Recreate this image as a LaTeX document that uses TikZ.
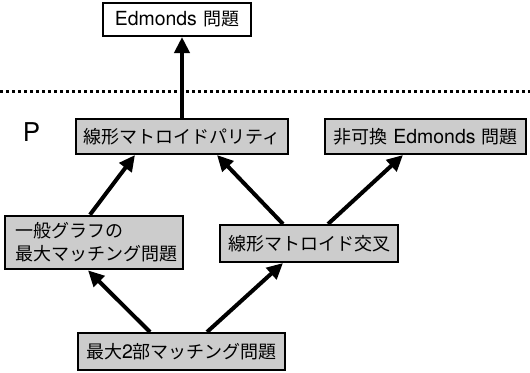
\documentclass[tikz,border=0pt]{standalone}
\usepackage{fontspec}
\setmainfont{Noto Sans CJK JP}
\newfontfamily\latinfont[Scale=1.08]{TeX Gyre Heros}
\newcommand{\lat}[1]{{\latinfont #1}}
\usetikzlibrary{arrows.meta, positioning}

\begin{document}
\begin{tikzpicture}[x=0.5pt, y=-0.5pt,
    prob/.style={rectangle, draw=black, fill=gray!40, line width=1pt, minimum height=17.5pt, inner xsep=4pt, inner ysep=2pt, font=\fontsize{9}{11.5}\selectfont},
    goal/.style={prob, fill=white},
    line/.style={draw, line width=2pt, -{Triangle[length=8pt, width=7.5pt]}}]

    \useasboundingbox (0,0) rectangle (530,372);

    \node [goal, minimum width=74pt, minimum height=16.5pt] (edmonds) at (177,19.5) {\lat{Edmonds}\hspace{0.35em}問題};
    \node [prob, minimum width=104pt] (parity) at (182,136.5) {線形マトロイドパリティ};
    \node [prob, minimum width=99.5pt] (nc) at (425.5,136.5) {非可換\hspace{0.35em}\lat{Edmonds}\hspace{0.35em}問題};
    \node [prob, text width=78pt, inner xsep=5.5pt, inner ysep=3.5pt, align=left] (general) at (93.5,242.5) {一般グラフの\\最大マッチング問題};
    \node [prob, minimum width=88pt, minimum height=18.5pt] (inter) at (309,243.5) {線形マトロイド交叉};
    \node [prob, minimum width=98.5pt, minimum height=18.5pt] (bip) at (181.5,351.5) {最大\lat{2}部マッチング問題};

    \node [font=\latinfont\fontsize{12}{14}\selectfont] (plabel) at (31.5,132.5) {P};

    % P and the rest
    \draw [line width=1.5pt, dash pattern=on 1.5pt off 1.5pt] (0,91) -- (530,91);

    \path [line] ([xshift=-15.75pt]bip.north) -- ([xshift=-2.75pt]general.south);
    \path [line] ([xshift=12.75pt]bip.north) -- ([xshift=-13pt]inter.south);
    \path [line] ([xshift=-1.75pt]general.north) -- ([xshift=-23.5pt]parity.south);
    \path [line] ([xshift=-13pt]inter.north) -- ([xshift=17.5pt]parity.south);
    \path [line] ([xshift=9.5pt]inter.north) -- ([xshift=-11.25pt]nc.south);
    \path [line] (parity.north) -- (parity.north |- edmonds.south);
\end{tikzpicture}
\end{document}
